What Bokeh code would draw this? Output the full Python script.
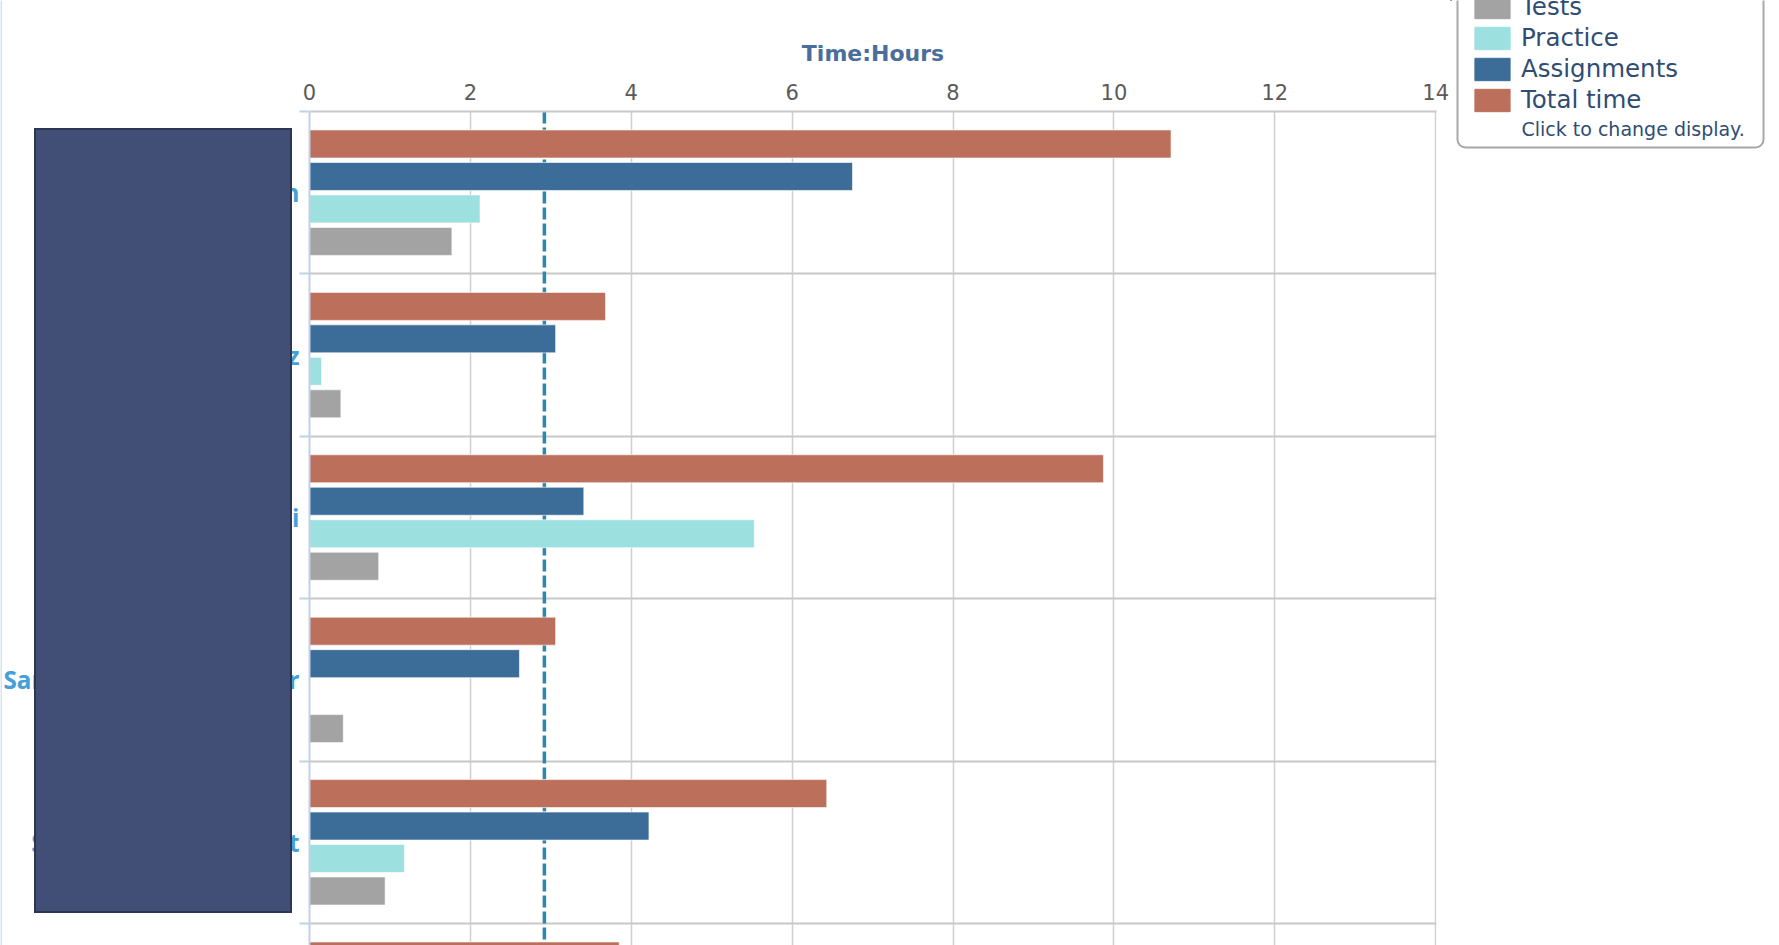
import numpy as np
from bokeh.plotting import figure
from bokeh.models import (Range1d, FixedTicker, ColumnDataSource, Span, Legend,
                          LegendItem, BoxAnnotation, Label)
from bokeh.embed import file_html
from bokeh.resources import INLINE

# ---------------- data ----------------
students = ["Michael Anderson", "Jessica Martinez", "Daniel Kowalski",
            "Sarah Thompson-Walker", "Stephanie Wainwright", "Thomas Wright"]
total_time = [10.71, 3.68, 9.87, 3.06, 6.43, 3.85]
assignments = [6.75, 3.06, 3.41, 2.61, 4.22, 2.95]
practice = [2.12, 0.15, 5.53, 0.0, 1.18, 0.45]
tests = [1.77, 0.39, 0.86, 0.42, 0.94, 0.45]
class_average = 2.92
x_ticks = [0, 2, 4, 6, 8, 10, 12, 14]
axis_title = "Time:Hours"
legend_order = ["Tests", "Practice", "Assignments", "Total time"]
legend_note = "Click to change display."

colors = {"Total time": "#bc6f5b", "Assignments": "#3c6d98",
          "Practice": "#9de0e0", "Tests": "#a3a3a3"}

# ---------------- geometry (pixels) ----------------
W, H = 1779, 945
FRAME_TOP = 111
FRAME_LEFT = 306
RIGHT_BORDER = 343
BAND = 162.4
Y_BOTTOM = (H - FRAME_TOP) / BAND

n = len(students)
y_pos = np.arange(n) + 0.5

# ---------------- main chart ----------------
p = figure(width=W, height=H, output_backend="svg", toolbar_location=None,
           x_axis_location="above", x_range=Range1d(0, 14.01),
           y_range=Range1d(Y_BOTTOM, 0),
           min_border_left=FRAME_LEFT, min_border_right=RIGHT_BORDER,
           min_border_top=FRAME_TOP, min_border_bottom=0,
           background_fill_color="white", border_fill_color="white",
           outline_line_color=None)

xa = p.xaxis[0]
xa.ticker = FixedTicker(ticks=x_ticks)
xa.axis_label = axis_title
xa.axis_label_text_font = "DejaVu Sans"
xa.axis_label_text_font_style = "bold"
xa.axis_label_text_font_size = "22px"
xa.axis_label_text_color = "#4a6e9c"
xa.axis_label_standoff = 15
xa.major_label_text_font = "DejaVu Sans"
xa.major_label_text_font_size = "21px"
xa.major_label_text_color = "#5c5a58"
xa.major_label_standoff = 12
xa.major_tick_out = 0
xa.major_tick_in = 0
xa.minor_tick_out = 0
xa.minor_tick_in = 0
xa.axis_line_color = "#c8c8c8"
xa.axis_line_width = 2

ya = p.yaxis[0]
ya.ticker = FixedTicker(ticks=list(y_pos), minor_ticks=list(range(n + 1)))
ya.major_label_overrides = {float(v): s for v, s in zip(y_pos, students)}
ya.major_tick_out = 10
ya.major_tick_in = 0
ya.major_tick_line_color = None
ya.minor_tick_out = 10
ya.minor_tick_in = 0
ya.minor_tick_line_color = "#c0d2e6"
ya.minor_tick_line_width = 2
ya.axis_line_color = "#c0d2e6"
ya.axis_line_width = 2
ya.major_label_text_font = "Open Sans"
ya.major_label_text_font_size = "24.2px"
ya.major_label_text_font_style = "bold"
ya.major_label_text_color = "#44a0d6"
ya.major_label_standoff = 0

p.ygrid[0].ticker = FixedTicker(ticks=list(range(n + 1)))
p.ygrid[0].grid_line_color = "#c8c8c8"
p.ygrid[0].grid_line_width = 2
p.xgrid[0].ticker = FixedTicker(ticks=x_ticks)
p.xgrid[0].grid_line_color = "#cfcfcf"
p.xgrid[0].grid_line_width = 1.5

p.add_layout(Span(location=class_average, dimension="height", line_color="#2a88ae",
                  line_width=3.5, line_dash="12 4", level="underlay"))

series = [("Total time", total_time, -0.3),
          ("Assignments", assignments, -0.1),
          ("Practice", practice, 0.1),
          ("Tests", tests, 0.3)]
for name, vals, off in series:
    src = ColumnDataSource(dict(y=y_pos + off, right=vals))
    p.hbar(y="y", right="right", left=0, height=0.1724, source=src,
           fill_color=colors[name], line_color="white", line_width=1, line_alpha=0.6)


def blank_fig(w, h, fill, alpha=1.0, **kw):
    return figure(width=w, height=h, output_backend="svg", toolbar_location=None,
                  x_axis_type=None, y_axis_type=None, min_border=0,
                  background_fill_color=fill, border_fill_color=fill,
                  background_fill_alpha=alpha, border_fill_alpha=alpha, **kw)


# ---------------- redaction block over the category labels ----------------
redact = blank_fig(258, 785, "#414f76", outline_line_color="#2c3552",
                   outline_line_width=3)
redact.styles = {"position": "absolute", "left": "34px", "top": "128px"}

# ---------------- legend panel ----------------
LG_LEFT = 1450
LG_W = W - LG_LEFT
LG_H = 160
lg = blank_fig(LG_W, LG_H, "white", alpha=0.0, outline_line_color=None,
               x_range=Range1d(0, LG_W), y_range=Range1d(LG_H, 0))
lg.styles = {"position": "absolute", "left": f"{LG_LEFT}px", "top": "0px"}
lg.add_layout(BoxAnnotation(left=1457 - LG_LEFT, right=1763 - LG_LEFT, top=-20, bottom=147,
                            fill_color="white", fill_alpha=1,
                            line_color="#a8a8a8", line_width=2, line_alpha=1,
                            border_radius=8))
dummy = {}
for name in legend_order:
    # one off-canvas bar so the legend swatch has a colour to draw
    dummy[name] = lg.hbar(y=[-1000], right=[1], left=0, height=1,
                          fill_color=colors[name], line_color=colors[name],
                          line_width=1)
legend = Legend(items=[LegendItem(label=nm, renderers=[dummy[nm]]) for nm in legend_order],
                location=(1470 - LG_LEFT, 46), orientation="vertical", padding=0, margin=0,
                spacing=2, glyph_width=44, glyph_height=28, label_height=23,
                label_standoff=7, label_text_font="DejaVu Sans",
                label_text_font_size="24.5px", label_text_color="#2f4d73",
                border_line_alpha=0, background_fill_alpha=0)
lg.add_layout(legend)
lg.add_layout(Label(x=1521 - LG_LEFT, y=128, text=legend_note,
                    text_font="DejaVu Sans", text_font_size="19px",
                    text_color="#2f4d73", text_baseline="middle"))

# ---------------- page edge lines ----------------
edge_left = blank_fig(2, H, "#d3e4f3", outline_line_color=None)
edge_left.styles = {"position": "absolute", "left": "0px", "top": "0px"}
edge_top = blank_fig(W, 2, "#d3e4f3", outline_line_color=None)
edge_top.styles = {"position": "absolute", "left": "0px", "top": "0px"}

open("out.html", "w").write(file_html([p, redact, lg, edge_left, edge_top], INLINE))
